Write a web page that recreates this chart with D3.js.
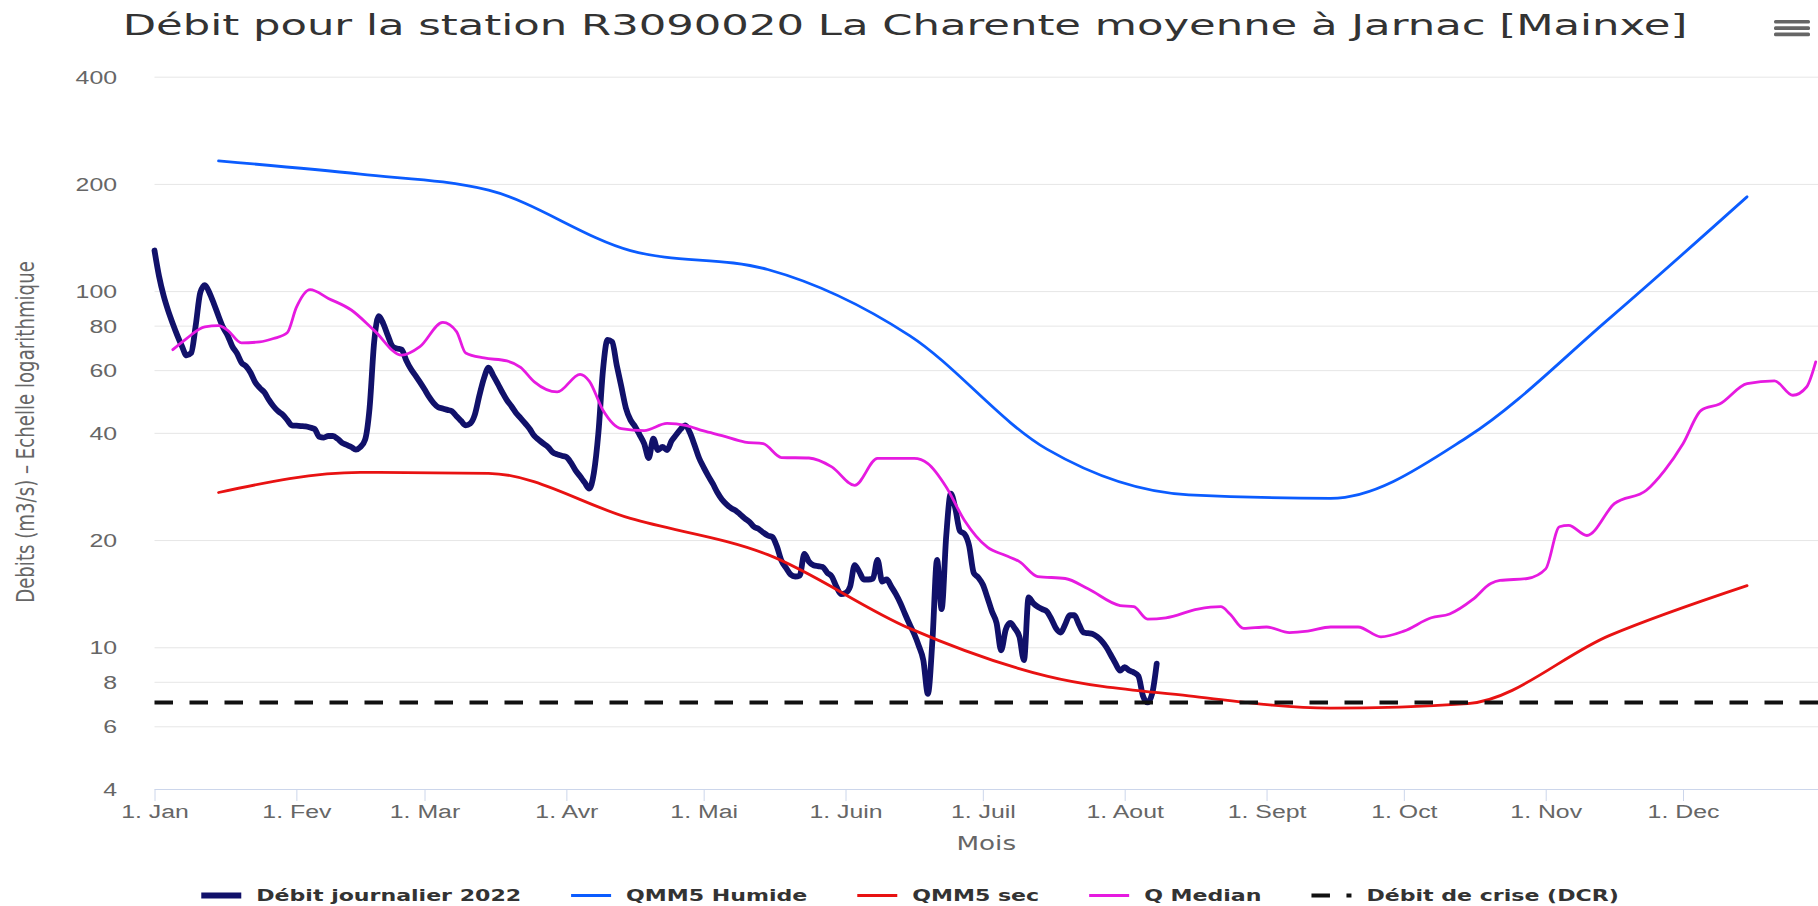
<!DOCTYPE html>
<html>
<head>
<meta charset="utf-8">
<script src="https://cdn.jsdelivr.net/npm/d3@7"></script>
<style>
  body { margin: 0; background: #fff; }
  svg { display: block; font-family: "DejaVu Sans", Verdana, sans-serif; }
</style>
</head>
<body>
<svg id="chart"></svg>
<script>
// data

const year = 2022
const moisLabels = ["Jan", "Fev", "Mar", "Avr", "Mai", "Juin", "Juil", "Aout", "Sept", "Oct", "Nov", "Dec"]
const yTicks = [4, 6, 8, 10, 20, 40, 60, 80, 100, 200, 400]

// daily flow 2022 (m3/s), one value per day starting 1 Jan
const debitJournalier = [
  130, 110, 97, 88, 81, 75, 70, 66, 67, 80,
  99, 104, 99, 92, 85, 79, 75, 70, 67, 63,
  61.5, 59, 55.5, 53.5, 52, 49.5, 47.5, 46, 45, 43.5,
  42, 41.9, 41.8, 41.7, 41.4, 41, 39, 38.8, 39.2, 39.2,
  38.5, 37.5, 37, 36.5, 35.9, 36.5, 38.2, 47, 72, 85,
  81, 75, 70, 69, 68.5, 64, 60.5, 58, 55.5, 53,
  50.5, 48.5, 47.2, 46.8, 46.4, 46, 44.5, 43.2, 42, 42.5,
  45, 51, 57, 61, 58, 55, 52, 49.4, 47.5, 45.5,
  44, 42.5, 41, 39.2, 38.2, 37.3, 36.5, 35.3, 34.8, 34.5,
  34.2, 33, 31.4, 30.2, 29, 27.9, 30.8, 40, 60, 73,
  72, 62, 54, 47, 43.5, 41.7, 39.5, 37.3, 34, 38.5,
  35.8, 36.5, 35.8, 38, 39.5, 41, 42, 40, 37, 34,
  32, 30.3, 28.8, 27.2, 26, 25.2, 24.6, 24.2, 23.6, 23,
  22.5, 21.8, 21.5, 21, 20.6, 20.4, 19.2, 17.5, 16.7, 16,
  15.8, 15.9, 18.3, 17.4, 17, 16.9, 16.8, 16.2, 15.8, 14.8,
  14.1, 14.2, 14.8, 17, 16.3, 15.5, 15.5, 15.6, 17.6, 15.3,
  15.5, 14.8, 14.1, 13.3, 12.4, 11.6, 10.9, 10.1, 9.2, 7.4,
  10.5, 17.6, 12.8, 20.5, 27, 24.5, 21.2, 20.8, 19.3, 16.2,
  15.7, 15, 13.8, 12.6, 11.7, 9.8, 11.2, 11.7, 11.3, 10.7,
  9.2, 13.8, 13.3, 13, 12.8, 12.6, 12, 11.3, 11, 11.6,
  12.3, 12.3, 11.6, 11, 10.95, 10.9, 10.7, 10.4, 10, 9.5,
  9, 8.6, 8.8, 8.6, 8.5, 8.3, 7.3, 7.0, 7.4, 9.0
]

// monthly quantiles, plotted on the 15th of each month
const qmm5Humide = [232, 213, 192, 130, 115, 75, 36, 26.8, 26.2, 39, 84, 184]
const qmm5Sec = [27.2, 31.0, 30.8, 23.0, 18.2, 11.3, 8.3, 7.3, 6.75, 6.95, 10.8, 14.9]

// median flow: day of year (0 = 1 Jan) and value
const qMedianJours = [
  4, 7, 11, 14, 16, 19, 23, 26, 29, 31,
  34, 38, 43, 48, 54, 58, 63, 66, 68, 72,
  77, 80, 83, 88, 93, 95, 98, 102, 107, 112,
  116, 120, 124, 129, 133, 137, 143, 148, 153, 158,
  166, 169, 173, 177, 182, 186, 189, 193, 199, 204,
  211, 214, 217, 221, 228, 233, 235, 238, 243, 248,
  252, 257, 263, 268, 273, 279, 283, 288, 292, 294,
  300, 304, 307, 309, 313, 319, 326, 330, 334, 338,
  342, 348, 354, 358, 361, 363
]
const qMedianValeurs = [
  68.5, 73.6, 79.4, 80, 77.6, 71.6, 72, 73.6, 76.4, 90,
  101, 95.4, 88.5, 77.6, 66.1, 69.8, 81.7, 77, 67, 64.9,
  63.7, 61.1, 55.6, 52.1, 58.4, 55.9, 46.3, 41.1, 40.6, 42.5,
  42, 40.5, 39.3, 37.7, 37.3, 34.1, 34, 32.1, 28.5, 33.9,
  33.9, 32.8, 28.2, 22.7, 19.1, 18.1, 17.4, 15.8, 15.6, 14.6,
  13.1, 13, 12, 12.1, 12.8, 13, 12.4, 11.3, 11.4, 11,
  11.1, 11.4, 11.4, 10.7, 11.1, 12.1, 12.4, 13.6, 15.1, 15.4,
  15.6, 16.6, 21.8, 22, 20.6, 25.3, 27.6, 31.4, 37.3, 46.3,
  48.2, 55, 56, 51, 53.8, 63.3
]

const debitCrise = 7


// dimensions
const width = 1818
const height = 906
const plot = { left: 154.5, right: 1818, top: 76.7, bottom: 789 }
const SX = 1.38   // text in the reference is stretched horizontally

const colors = {
  journalier: "#11116a",
  humide: "#0b5cff",
  sec: "#e81212",
  median: "#e61ae0",
  crise: "#111"
}

const jan1 = new Date(year, 0, 1)

const svg = d3.select("#chart")
  .attr("width", width)
  .attr("height", height)

// scales
const x = d3.scaleTime()
  .domain([jan1, new Date(year, 11, 30, 12)])
  .range([plot.left, plot.right])

const y = d3.scaleLog()
  .domain([4, 400])
  .range([plot.bottom, plot.top])


// title
const title = svg.append("text")
  .attr("text-anchor", "middle")
  .attr("font-size", 28.5)
  .attr("fill", "#333")
  .text("Débit pour la station R3090020 La Charente moyenne à Jarnac [Mainxe]")
const titleLen = title.node().getComputedTextLength()
title.attr("transform", "translate(905,35) scale(" + (1565 / titleLen) + ",1)")

// menu icon
svg.append("g")
  .selectAll("rect")
  .data([0, 1, 2])
  .enter().append("rect")
    .attr("x", 1774)
    .attr("y", d => 20 + d * 6.3)
    .attr("width", 36)
    .attr("height", 3.6)
    .attr("rx", 1.5)
    .attr("fill", "#666")


// Y axis with grid lines
const yAxis = svg.append("g")
  .attr("transform", "translate(" + plot.left + ",0)")
  .call(d3.axisLeft(y)
    .tickValues(yTicks)
    .tickFormat(d3.format("d"))
    .tickSize(-(plot.right - plot.left))
    .tickPadding(0))
yAxis.select(".domain").remove()
yAxis.selectAll(".tick line")
  .attr("stroke", "#e6e6e6")
yAxis.selectAll(".tick text")
  .attr("x", -37.5 / SX)
  .attr("dy", "0.36em")
  .attr("transform", "scale(" + SX + ",1)")
  .attr("font-size", 18)
  .attr("fill", "#666")

// y axis title
const yTitle = svg.append("text")
  .attr("text-anchor", "middle")
  .attr("dominant-baseline", "central")
  .attr("font-size", 17)
  .attr("fill", "#666")
  .text("Debits (m3/s) – Echelle logarithmique")
const yTitleLen = yTitle.node().getComputedTextLength()
yTitle.attr("font-size", 17 * 342 / yTitleLen)
  .attr("transform", "translate(25,432) scale(" + SX + ",1) rotate(-90)")


// X axis
const monthStarts = d3.range(12).map(m => new Date(year, m, 1))
const xAxis = svg.append("g")
  .attr("transform", "translate(0," + plot.bottom + ")")
  .call(d3.axisBottom(x)
    .tickValues(monthStarts)
    .tickFormat(d => "1. " + moisLabels[d.getMonth()])
    .tickSizeInner(12)
    .tickSizeOuter(0))
xAxis.select(".domain")
  .attr("stroke", "#ccd6eb")
xAxis.selectAll(".tick line")
  .attr("stroke", "#ccd6eb")
xAxis.selectAll(".tick text")
  .attr("y", 29)
  .attr("dy", 0)
  .attr("transform", "scale(" + SX + ",1)")
  .attr("font-size", 18)
  .attr("fill", "#666")

svg.append("text")
  .attr("text-anchor", "middle")
  .attr("transform", "translate(" + (plot.left + plot.right) / 2 + ",850) scale(" + SX + ",1)")
  .attr("font-size", 19)
  .attr("fill", "#666")
  .text("Mois")


// series
const journalier = debitJournalier.map((v, i) => ({ date: d3.timeDay.offset(jan1, i), v: v }))
const humide = qmm5Humide.map((v, i) => ({ date: new Date(year, i, 15), v: v }))
const sec = qmm5Sec.map((v, i) => ({ date: new Date(year, i, 15), v: v }))
const median = qMedianJours.map((j, i) => ({ date: d3.timeDay.offset(jan1, j), v: qMedianValeurs[i] }))

const line = d3.line()
  .x(d => x(d.date))
  .y(d => y(d.v))
  .curve(d3.curveMonotoneX)

const series = [
  { name: "Débit journalier 2022", data: journalier, color: colors.journalier, width: 5.8 },
  { name: "QMM5 Humide", data: humide, color: colors.humide, width: 2.8 },
  { name: "QMM5 sec", data: sec, color: colors.sec, width: 2.8 },
  { name: "Q Median", data: median, color: colors.median, width: 2.8 },
  { name: "Débit de crise (DCR)", data: null, color: colors.crise, width: 4, dash: "18.5,16.5" }
]

const lines = svg.append("g")
series.forEach(s => {
  if (s.data) {
    lines.append("path")
      .datum(s.data)
      .attr("fill", "none")
      .attr("stroke", s.color)
      .attr("stroke-width", s.width)
      .attr("stroke-linejoin", "round")
      .attr("stroke-linecap", "round")
      .attr("d", line)
  } else {
    // flat crisis threshold
    lines.append("line")
      .attr("x1", x.range()[0])
      .attr("x2", x.range()[1])
      .attr("y1", y(debitCrise))
      .attr("y2", y(debitCrise))
      .attr("stroke", s.color)
      .attr("stroke-width", s.width)
      .attr("stroke-dasharray", s.dash)
  }
})


// legend
const legend = svg.append("g")
const symbolW = 40
const items = series.map(s => {
  const g = legend.append("g")
  g.append("line")
    .attr("x1", 0).attr("x2", symbolW)
    .attr("y1", 895.5).attr("y2", 895.5)
    .attr("stroke", s.color)
    .attr("stroke-width", s.width)
    .attr("stroke-dasharray", s.dash || null)
  const t = g.append("text")
    .attr("transform", "translate(" + (symbolW + 15) + ",901) scale(" + SX + ",1)")
    .attr("font-size", 16)
    .attr("font-weight", "bold")
    .attr("fill", "#333")
    .text(s.name)
  return { g: g, w: symbolW + 15 + t.node().getComputedTextLength() * SX }
})
const gap = 50
const total = d3.sum(items, d => d.w) + gap * (items.length - 1)
let cursor = 910 - total / 2
items.forEach(it => {
  it.g.attr("transform", "translate(" + cursor + ",0)")
  cursor += it.w + gap
})
</script>
</body>
</html>
